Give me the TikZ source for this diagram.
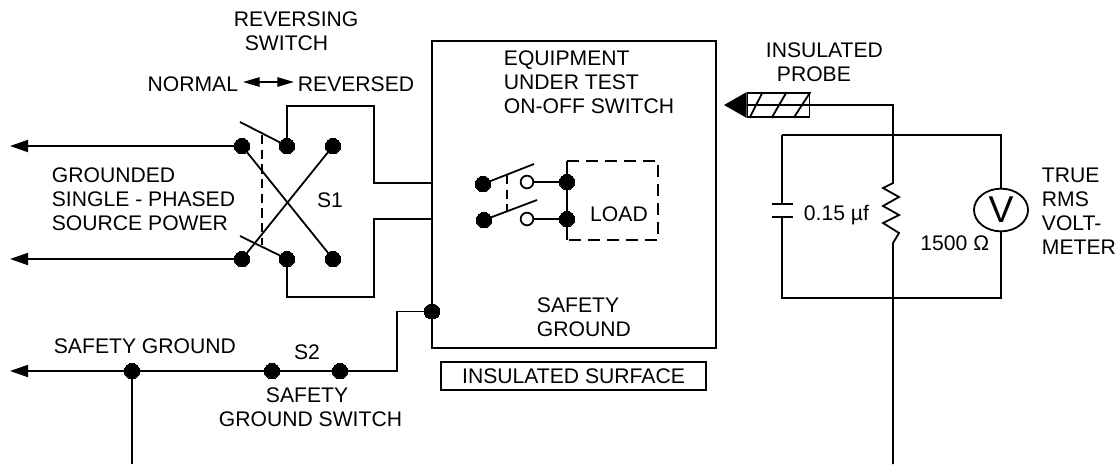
\documentclass[tikz,border=0pt]{standalone}
\usepackage{fontspec}
\setmainfont{Liberation Sans}
\usetikzlibrary{arrows.meta, calc, shapes.geometric}

\begin{document}
\begin{tikzpicture}[
x=0.75pt, y=-0.75pt,
line width=1.35pt,
>={Triangle[length=13.5pt,width=9pt]},
cell label/.style = {font=\fontsize{15.85}{18}\selectfont, inner sep=0pt, align=left},
cell center/.style = {cell label, align=center},
dot/.style = {circle, fill=black, draw=black, line width=0pt, inner sep=0pt, minimum size=11.5pt},
open dot/.style = {circle, fill=white, draw=black, inner sep=0pt, minimum size=9.5pt},
dash wire/.style = {line width=1pt, dash pattern=on 7pt off 4pt},
]

\useasboundingbox (0,0) rectangle (1116,464);

% reversing switch
\coordinate (W1) at (10,146);
\coordinate (W2) at (10,259);
\node (A1) [dot] at (242,146){};
\node (A2) [dot] at (287,146){};
\node (A3) [dot] at (333,146){};
\node (B1) [dot] at (242,259){};
\node (B2) [dot] at (287,259){};
\node (B3) [dot] at (333,259){};
\coordinate (F1) at (240,122);
\coordinate (F2) at (240,236);
\coordinate (D1) at (262,135);
\coordinate (D2) at (262,245);
\coordinate (T1) at (287,106);
\coordinate (T2) at (374,106);
\coordinate (T3) at (374,183);
\coordinate (U1) at (287,297);
\coordinate (U2) at (374,297);
\coordinate (U3) at (374,219);

% equipment
\node (EUT) [draw, rectangle, minimum width=213pt, minimum height=230.25pt, inner sep=0pt] at (574,194.5){};
\node (SG) [dot] at (432,311.5){};
\node (L1) [dot] at (483,184){};
\node (L2) [dot] at (484,220){};
\node (O1) [open dot] at (527,182){};
\node (O2) [open dot] at (527,219){};
\node (R1) [dot] at (567,182){};
\node (R2) [dot] at (567,219){};
\coordinate (E1) at (534,164);
\coordinate (E2) at (537,200);
\coordinate (D3) at (507,175);
\coordinate (D4) at (507,212);
\coordinate (P1) at (567,161);
\coordinate (P2) at (658,161);
\coordinate (P3) at (658,240);
\coordinate (P4) at (567,240);
\node (IS) [draw, rectangle, minimum width=198.75pt, minimum height=21pt, inner sep=0pt, cell center] at (573.5,376){INSULATED SURFACE};

% safety ground
\coordinate (W3) at (10,371);
\node (G1) [dot] at (132,371){};
\node (S2A) [dot] at (272,371){};
\node (S2B) [dot] at (340,371){};
\coordinate (G2) at (397,371);
\coordinate (G3) at (397,311.5);
\coordinate (G4) at (132,464);

% probe and meter
\node (PB) [draw, rectangle, minimum width=46.5pt, minimum height=18pt, inner sep=0pt] at (778.5,105){};
\coordinate (PT) at (724,105);
\coordinate (Q1) at (893,105);
\coordinate (Q2) at (893,183);
\coordinate (Q3) at (893,243);
\coordinate (Q4) at (893,464);
\coordinate (TL) at (782,135);
\coordinate (TR) at (1001,135);
\coordinate (BR) at (1001,298);
\coordinate (BL) at (782,298);
\coordinate (CA) at (782,204);
\coordinate (CB) at (782,217);
\node (VM) [draw, ellipse, minimum width=40.5pt, minimum height=32pt, inner sep=0pt, font=\fontsize{28}{28}\selectfont] at (1001,210){V};

\draw[->] (A1) -- (W1);
\draw[->] (B1) -- (W2);
\draw (A1) -- (B3);
\draw (B1) -- (A3);
\draw (A2) -- (F1);
\draw (B2) -- (F2);
\draw[dash wire] (D1) -- (D2);
\draw (A2) -- (T1) -- (T2) -- (T3) -- (T3 -| EUT.west);
\draw (B2) -- (U1) -- (U2) -- (U3) -- (U3 -| EUT.west);

\draw (L1) -- (E1);
\draw (L2) -- (E2);
\draw[dash wire] (D3) -- (D4);
\draw (O1) -- (R1);
\draw (O2) -- (R2);
\draw (P1) -- (P4);
\draw[line width=1pt, dash pattern=on 9pt off 5.25pt] (P1) -- (P2) -- (P3) -- (P4);

\draw[->] (G1) -- (W3);
\draw (G1) -- (S2A);
\draw (S2A) -- (S2B);
\draw (S2B) -- (G2) -- (G3) -- (SG);
\draw (G1) -- (G4);

\fill (PT) -- (PB.north west) -- (PB.south west) -- cycle;
\draw (PB.west) -- (Q1) -- (Q2) -- ++(-10,5) -- ++(16,9) -- ++(-16,9) -- ++(16,9) -- ++(-16,8) -- ++(16,10) -- (Q3) -- (Q4);
\draw ($(PB.south west)+(3,0)$) -- ($(PB.north west)+(16,0)$);
\draw ($(PB.south west)+(25,0)$) -- ($(PB.north west)+(40,0)$);
\draw ($(PB.south west)+(47,0)$) -- (PB.north east);

\draw (TL) -- (TR) -- (VM);
\draw (VM) -- (BR) -- (BL) -- (CB);
\draw (TL) -- (CA);
\draw ($(CA)+(-10,0)$) -- ($(CA)+(11,0)$);
\draw ($(CB)+(-10,0)$) -- ($(CB)+(11,0)$);

% labels
\node (RS1) [cell label, anchor=west] at (233,19){REVERSING};
\node (RS2) [cell label, anchor=west] at (244,43){SWITCH};
\node (NM) [cell label, anchor=east] at (239,84){NORMAL};
\node (RV) [cell label, anchor=west] at (297,84){REVERSED};
\coordinate (AL) at (243,82);
\coordinate (AR) at (294,82);
\draw[{Triangle[length=12.5pt,width=7pt]}-{Triangle[length=12.5pt,width=7pt]}] (AL) -- (AR);
\node (GS) [cell label, anchor=west] at (51,199){GROUNDED\\SINGLE - PHASED\\SOURCE POWER};
\node (S1) [cell label] at (330,200){S1};
\node (EQ) [cell label, anchor=west] at (503,82){EQUIPMENT\\UNDER TEST\\ON-OFF SWITCH};
\node (LD) [cell label] at (619,214){LOAD};
\node (SGT) [cell label, anchor=west] at (536,317){SAFETY\\GROUND};
\node (SGL) [cell label, anchor=west] at (53,346){SAFETY GROUND};
\node (S2) [cell label] at (307,352){S2};
\node (SGS1) [cell label, anchor=west] at (265,395){SAFETY};
\node (SGS2) [cell label, anchor=west] at (218,419.5){GROUND SWITCH};
\node (IP1) [cell label, anchor=west] at (765,50){INSULATED};
\node (IP2) [cell label, anchor=west] at (776,74){PROBE};
\node (CP) [cell label, anchor=west] at (803,215){0.15 µf};
\node (RO) [cell label, anchor=east] at (990,243){1500 Ω};
\node (TR2) [cell label, anchor=west] at (1041,211.5){TRUE\\RMS\\VOLT-\\METER};

\end{tikzpicture}
\end{document}
